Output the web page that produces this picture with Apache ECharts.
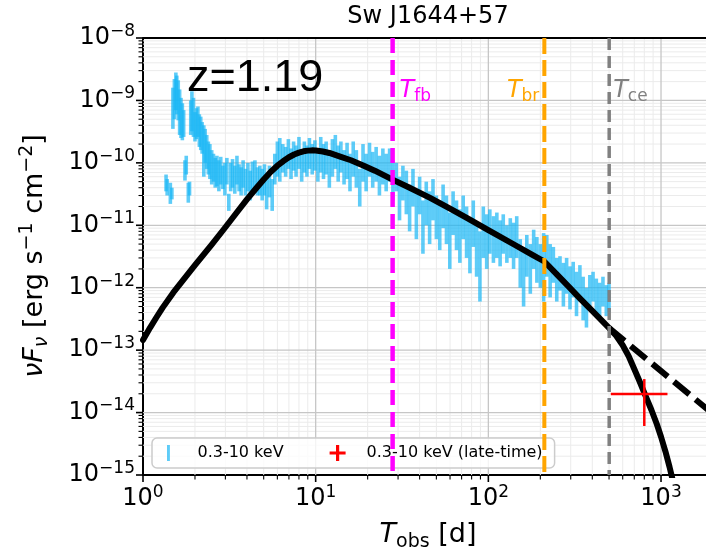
<!DOCTYPE html>
<html><head><meta charset="utf-8">
<script src="https://cdn.jsdelivr.net/npm/echarts@6/dist/echarts.min.js"></script>
<style>html,body{margin:0;padding:0;background:#fff}#c{width:706px;height:556px}</style>
</head><body><div id="c"></div>
<script>
// ---------------- data ----------------
const titleText = 'Sw J1644+57';
const redshiftText = 'z=1.19';
const xRange = [1, 2000];
const yRange = [1e-15, 1e-8];
const tFb = 27.9, tBr = 211, tCe = 501;

// 0.3-10 keV light curve (vertical error bars)
const xrtTime = [1.36,1.38,1.44,1.47,1.49,1.52,1.55,1.57,1.60,1.63,1.66,1.69,1.72,1.75,1.78,1.83,1.86,1.89,1.92,1.96,
 2.00,2.04,2.08,2.12,2.16,2.20,2.25,2.29,2.34,2.39,2.44,2.50,2.56,2.62,2.68,2.75,2.82,2.90,2.98,3.06,3.14,3.22,3.30,3.40,
 3.50,3.60,3.70,3.80,3.92,4.05,4.18,4.30,4.45,4.60,4.75,4.90,5.05,5.20,5.40,5.60,5.80,6.00,6.20,6.45,6.70,6.95,7.20,7.45,
 7.70,8.00,8.30,8.60,8.90,9.20,9.55,9.90,10.3,10.7,11.1,11.5,12.0,12.5,13.0,13.5,14.0,14.6,15.2,15.8,16.5,17.2,18.0,18.8,
 19.6,20.5,21.4,22.4,23.4,24.5,25.6,26.8,28.0,29.3,30.6,32.0,33.5,35.0,36.6,38.3,40.0,41.8,43.7,45.7,47.8,50.0,52.3,54.7,
 57.2,59.8,62.5,65.4,68.4,71.5,74.8,78.2,81.8,85.5,89.4,93.5,97.8,102,107,112,117,122,128,134,140,146,153,160,167,175,183,
 191,200,209,218,228,238,249,260,272,284,297,310,324,339,354,370,387,404,422,441,461,482,500];
const xrtFluxLo = [3.5e-11,3.0e-11,2.2e-11,2.6e-11,3.5e-10,5.0e-10,7.0e-10,6.0e-10,4.8e-10,2.8e-10,2.5e-10,2.3e-10,2.6e-10,5.2e-11,6.5e-11,2.3e-11,3.0e-11,2.8e-10,3.2e-10,2.6e-10,
 2.2e-10,2.4e-10,2.6e-10,1.8e-10,1.6e-10,1.4e-10,6.0e-11,1.0e-10,8.0e-11,6.5e-11,5.5e-11,4.5e-11,5.0e-11,4.0e-11,4.2e-11,3.5e-11,4.5e-11,3.8e-11,3.0e-11,4.5e-11,1.7e-11,3.5e-11,4.0e-11,3.2e-11,
 4.5e-11,3.5e-11,3.0e-11,4.0e-11,3.0e-11,3.5e-11,2.5e-11,3.5e-11,4.0e-11,3.0e-11,3.0e-11,2.5e-11,3.0e-11,1.8e-11,2.8e-11,1.7e-11,4.5e-11,6.0e-11,5.0e-11,7.0e-11,6.0e-11,8.0e-11,5.5e-11,7.5e-11,
 6.0e-11,8.0e-11,5.0e-11,7.0e-11,6.0e-11,8.0e-11,6.5e-11,7.5e-11,5.0e-11,7.0e-11,5.5e-11,6.5e-11,4.0e-11,6.0e-11,8.0e-11,5.0e-11,7.0e-11,4.5e-11,5.5e-11,3.5e-11,6.0e-11,4.0e-11,2.0e-11,5.0e-11,
 3.5e-11,6.0e-11,4.0e-11,5.0e-11,3.0e-11,4.5e-11,3.5e-11,5.0e-11,2.5e-11,3.5e-11,1.2e-11,2.5e-11,1.5e-11,8.0e-12,2.0e-11,6.0e-12,1.5e-11,3.5e-12,1.0e-11,5.0e-12,1.2e-11,6.0e-12,4.0e-12,9.0e-12,
 5.0e-12,2.0e-12,7.0e-12,4.0e-12,2.5e-12,6.0e-12,3.0e-12,1.7e-12,4.5e-12,1.5e-12,6.0e-13,3.0e-12,2.0e-12,3.5e-12,2.5e-12,3.0e-12,2.2e-12,3.5e-12,2.5e-12,3.0e-12,2.0e-12,3.0e-12,1.0e-12,5.0e-13,1.5e-12,8.0e-13,2.0e-12,
 1.2e-12,1.0e-12,6.0e-13,1.5e-12,7.0e-13,1.2e-12,6.0e-13,9.0e-13,5.0e-13,8.0e-13,4.5e-13,7.0e-13,3.5e-13,6.0e-13,3.0e-13,2.3e-13,5.0e-13,6.0e-13,4.0e-13,3.5e-13,5.0e-13,3.5e-13,4.0e-13];
const xrtFluxHi = [6.5e-11,5.5e-11,4.8e-11,4.0e-11,1.6e-9,2.2e-9,2.8e-9,2.5e-9,2.1e-9,1.5e-9,1.1e-9,9.0e-10,7.0e-10,1.1e-10,1.3e-10,4.8e-11,5.0e-11,1.0e-9,1.4e-9,1.1e-9,
 6.5e-10,7.5e-10,8.0e-10,6.0e-10,5.5e-10,4.5e-10,4.0e-10,3.5e-10,2.8e-10,2.2e-10,2.0e-10,1.6e-10,1.4e-10,1.2e-10,1.3e-10,1.1e-10,1.25e-10,9.0e-11,1.0e-10,1.2e-10,3.2e-11,1.0e-10,1.15e-10,9.0e-11,
 1.3e-10,9.5e-11,8.5e-11,1.1e-10,8.0e-11,1.0e-10,7.5e-11,1.05e-10,1.1e-10,8.5e-11,9.0e-11,8.0e-11,9.5e-11,6.0e-11,9.0e-11,5.5e-11,1.4e-10,2.2e-10,2.5e-10,2.0e-10,1.8e-10,2.4e-10,1.7e-10,2.2e-10,
 1.9e-10,2.6e-10,1.6e-10,2.2e-10,1.9e-10,2.5e-10,2.0e-10,2.3e-10,1.6e-10,2.6e-10,2.0e-10,2.2e-10,1.5e-10,2.4e-10,2.8e-10,1.9e-10,2.2e-10,1.6e-10,2.1e-10,1.4e-10,2.2e-10,1.6e-10,8.0e-11,2.0e-10,
 1.4e-10,2.1e-10,1.5e-10,1.8e-10,1.3e-10,1.7e-10,1.4e-10,1.7e-10,1.1e-10,1.0e-10,6.0e-11,9.0e-11,7.5e-11,4.5e-11,8.0e-11,3.5e-11,6.0e-11,2.5e-11,5.0e-11,3.5e-11,5.5e-11,3.0e-11,2.5e-11,4.5e-11,
 3.0e-11,1.6e-11,3.5e-11,2.5e-11,1.8e-11,3.0e-11,2.0e-11,1.2e-11,2.5e-11,1.0e-11,8.0e-12,2.0e-11,1.5e-11,1.8e-11,1.4e-11,1.6e-11,1.2e-11,1.5e-11,1.0e-11,1.3e-11,1.1e-11,1.4e-11,6.0e-12,4.0e-12,7.0e-12,5.0e-12,8.5e-12,
 6.5e-12,5.0e-12,7.5e-12,7.0e-12,5.0e-12,4.5e-12,3.0e-12,3.2e-12,2.5e-12,3.0e-12,2.2e-12,2.6e-12,1.8e-12,2.3e-12,1.5e-12,1.0e-12,1.6e-12,1.8e-12,1.4e-12,1.2e-12,1.5e-12,1.1e-12,1.2e-12];

// model light curve (solid) and no-cutoff extension (dashed)
const modelTime = [1,1.1,1.2,1.3,1.5,2,2.5,3,3.5,4,4.5,5,5.5,6,6.5,7,7.5,8,8.5,9,9.5,10,11,12,14,16,19,22,27.9,35,46,60,75,100,140,180,211,
 250,290,340,400,450,501,550,600,650,700,750,810,880,946,1000,1060,1120,1180];
const modelFlux = [1.45e-13,2.3e-13,3.4e-13,4.8e-13,8.4e-13,2.3e-12,4.9e-12,9.3e-12,1.62e-11,2.6e-11,3.85e-11,5.4e-11,7.2e-11,9.0e-11,1.07e-10,1.23e-10,1.36e-10,1.46e-10,1.53e-10,1.57e-10,1.585e-10,1.58e-10,1.52e-10,1.44e-10,1.25e-10,1.1e-10,9.0e-11,7.5e-11,5.4e-11,4.0e-11,2.75e-11,1.85e-11,1.31e-11,8.4e-12,4.97e-12,3.37e-12,2.63e-12,
 1.62e-12,1.06e-12,6.7e-13,4.25e-13,3.05e-13,2.25e-13,1.7e-13,1.2e-13,8.0e-14,5.0e-14,3.2e-14,1.9e-14,1.1e-14,6.5e-15,4.1e-15,2.4e-15,1.35e-15,7.4e-16];
const noCutoffTime = [501, 2000];
const noCutoffFlux = [2.25e-13, 9.5e-15];

// late-time point with error bars
const lateTime = [800], lateTimeLo = [512], lateTimeHi = [1090];
const lateFlux = [1.98e-14], lateFluxLo = [6.1e-15], lateFluxHi = [3.44e-14];

// ---------------- chart ----------------
const FONT = 'DejaVu Sans';
const BLUE = 'rgba(25,182,245,0.7)';
const chart = echarts.init(document.getElementById('c'), null, {renderer: 'canvas', width: 706, height: 556});

function powLabel(v) {
  const e = Math.round(Math.log10(v));
  if (Math.abs(v / Math.pow(10, e) - 1) > 1e-6) return '';
  return '{b|10}{s|' + String(e).replace('-', '\u2212') + '}';
}
const tickRich = {
  b: {fontSize: 24, fontFamily: FONT, color: '#000', lineHeight: 30},
  s: {fontSize: 17, fontFamily: FONT, color: '#000', lineHeight: 17, verticalAlign: 'top'}
};

const xrtData = xrtTime.map((t, i) => [t, xrtFluxLo[i], xrtFluxHi[i]]);
const modelData = modelTime.map((t, i) => [t, modelFlux[i]]);
const noCutData = noCutoffTime.map((t, i) => [t, noCutoffFlux[i]]);
const lateData = lateTime.map((t, i) => [t, lateFlux[i], lateTimeLo[i], lateTimeHi[i], lateFluxLo[i], lateFluxHi[i]]);

function vline(t, color, width, dash) {
  return {type: 'line', data: [[t, yRange[1]], [t, yRange[0]]], symbol: 'none', silent: true, z: 6,
    lineStyle: {color: color, width: width, type: dash}, animation: false};
}

const option = {
  animation: false,
  backgroundColor: '#fff',
  grid: {left: 143, top: 38, width: 570, height: 437, containLabel: false, outerBoundsMode: 'none'},
  xAxis: {
    type: 'log', logBase: 10, min: xRange[0], max: xRange[1], splitNumber: 4,
    axisLine: {show: true, onZero: false, lineStyle: {color: '#000', width: 2}},
    axisTick: {show: false}, splitLine: {show: false}, minorTick: {show: false},
    axisLabel: {formatter: powLabel, rich: tickRich, margin: 9, hideOverlap: false, showMaxLabel: true, showMinLabel: true}
  },
  yAxis: {
    type: 'log', logBase: 10, min: yRange[0], max: yRange[1], splitNumber: 7,
    axisLine: {show: true, onZero: false, lineStyle: {color: '#000', width: 2}},
    axisTick: {show: false}, splitLine: {show: false}, minorTick: {show: false},
    axisLabel: {formatter: powLabel, rich: tickRich, margin: 8, hideOverlap: false, showMaxLabel: true, showMinLabel: true}
  },
  legend: {
    left: 152, top: 438, orient: 'horizontal',
    padding: [7, 12, 7, 15], itemGap: 46, itemWidth: 16, itemHeight: 16,
    borderColor: '#cccccc', borderWidth: 1.5, borderRadius: 5,
    backgroundColor: 'rgba(255,255,255,0.8)', selectedMode: false,
    textStyle: {fontSize: 16, fontFamily: FONT, color: '#000', padding: [0, 0, 0, 16]},
    data: [
      {name: '0.3-10 keV', icon: 'path://M0,0h2v11h-2z'},
      {name: '0.3-10 keV (late-time)', icon: 'path://M4,0h2v10h-2zM0,4h10v2h-10z'}
    ]
  },
  series: [
    {
      type: 'custom', name: 'gridlines', silent: true, z: 1, clip: false,
      data: [[xRange[0], yRange[0]]],
      renderItem: function (params, api) {
        const cs = params.coordSys;
        const x0 = cs.x, x1 = cs.x + cs.width, y0 = cs.y, y1 = cs.y + cs.height;
        const minors = [], majors = [], ticks = [];
        for (let n = 0; n <= 4; n++) for (let k = 1; k <= 9; k++) {
          const v = k * Math.pow(10, n);
          if (v > xRange[1]) continue;
          const px = api.coord([v, yRange[0]])[0];
          const major = k === 1;
          if (px > x0 + 1 && px < x1 - 1)
            (major ? majors : minors).push({type: 'line', shape: {x1: px, y1: y0, x2: px, y2: y1},
              style: {stroke: major ? '#c6c6c6' : '#ebebeb', lineWidth: major ? 1.3 : 1}});
          ticks.push({type: 'line', shape: {x1: px, y1: y1, x2: px, y2: y1 + (major ? 7 : 4.5)},
            style: {stroke: '#000', lineWidth: major ? 1.6 : 1.1}});
        }
        for (let n = -15; n <= -8; n++) for (let k = 1; k <= 9; k++) {
          const v = k * Math.pow(10, n);
          if (v > yRange[1] * 1.0001) continue;
          const py = api.coord([xRange[0], v])[1];
          const major = k === 1;
          if (py > y0 + 1 && py < y1 - 1)
            (major ? majors : minors).push({type: 'line', shape: {x1: x0, y1: py, x2: x1, y2: py},
              style: {stroke: major ? '#c6c6c6' : '#ebebeb', lineWidth: major ? 1.3 : 1}});
          ticks.push({type: 'line', shape: {x1: x0, y1: py, x2: x0 - (major ? 7 : 4.5), y2: py},
            style: {stroke: '#000', lineWidth: major ? 1.6 : 1.1}});
        }
        ticks.push({type: 'line', shape: {x1: x0, y1: y0, x2: x1, y2: y0}, style: {stroke: '#000', lineWidth: 2}});
        return {type: 'group', children: minors.concat(majors, ticks)};
      }
    },
    {
      type: 'custom', name: '0.3-10 keV', z: 2, clip: true,
      itemStyle: {color: BLUE},
      encode: {x: 0, y: [1, 2]},
      data: xrtData,
      renderItem: function (params, api) {
        const a = api.coord([api.value(0), api.value(1)]);
        const b = api.coord([api.value(0), api.value(2)]);
        return {type: 'line', shape: {x1: a[0], y1: a[1], x2: b[0], y2: b[1]},
          style: {stroke: BLUE, lineWidth: 3.6}};
      }
    },
    {
      type: 'line', name: 'model', data: modelData, symbol: 'none', silent: true, z: 4, clip: true,
      lineStyle: {color: '#000', width: 6, cap: 'round', join: 'round'}
    },
    {
      type: 'line', name: 'no cutoff', data: noCutData, symbol: 'none', silent: true, z: 4, clip: true,
      lineStyle: {color: '#000', width: 6, type: [20, 8]}
    },
    vline(tFb, '#ff00ff', 4.5, [15, 7]),
    vline(tBr, '#ffa500', 4, [16, 6]),
    vline(tCe, '#808080', 3.5, [12, 6]),
    {
      type: 'custom', name: '0.3-10 keV (late-time)', z: 7, clip: false,
      itemStyle: {color: '#ff0000'},
      encode: {x: 0, y: 1},
      data: lateData,
      renderItem: function (params, api) {
        const t = api.value(0), f = api.value(1);
        const l = api.coord([api.value(2), f]), r = api.coord([api.value(3), f]);
        const lo = api.coord([t, api.value(4)]), hi = api.coord([t, api.value(5)]);
        return {type: 'group', children: [
          {type: 'line', shape: {x1: l[0], y1: l[1], x2: r[0], y2: r[1]}, style: {stroke: '#ff0000', lineWidth: 2.5}},
          {type: 'line', shape: {x1: lo[0], y1: lo[1], x2: hi[0], y2: hi[1]}, style: {stroke: '#ff0000', lineWidth: 2.5}}
        ]};
      }
    }
  ]
};
chart.setOption(option);

const px = v => chart.convertToPixel({xAxisIndex: 0}, v);
function tLabel(sub, color) {
  return {
    text: '{T|T}{s|' + sub + '}', fill: color,
    rich: {
      T: {fontSize: 24, fontStyle: 'italic', fontFamily: FONT, fill: color, lineHeight: 28},
      s: {fontSize: 17, fontFamily: FONT, fill: color, lineHeight: 18, verticalAlign: 'bottom'}
    }
  };
}
const graphics = [
  {type: 'text', x: 428, y: 17, style: {text: titleText, fontSize: 24, fontFamily: FONT, fill: '#000', align: 'center', verticalAlign: 'middle'}},
  {type: 'text', x: 187, y: 79, z: 10, style: {text: redshiftText, fontSize: 45, fontFamily: 'Liberation Sans', fill: '#000', align: 'left', verticalAlign: 'middle'}},
  {type: 'text', x: 35, y: 256, rotation: Math.PI / 2, style: {
    text: '{i|\u03bdF}{sub|\u03bd}{n| [erg s}{sup|\u22121}{n| cm}{sup|\u22122}{n|]}',
    align: 'center', verticalAlign: 'middle', fill: '#000',
    rich: {
      i: {fontSize: 27, fontStyle: 'italic', fontFamily: FONT, fill: '#000', lineHeight: 34},
      n: {fontSize: 27, fontFamily: FONT, fill: '#000', lineHeight: 34},
      sub: {fontSize: 19, fontStyle: 'italic', fontFamily: FONT, fill: '#000', lineHeight: 22, verticalAlign: 'bottom'},
      sup: {fontSize: 19, fontFamily: FONT, fill: '#000', lineHeight: 19, verticalAlign: 'top'}
    }}},
  {type: 'text', x: 428, y: 535, style: {
    text: '{i|T}{sub|obs}{n| [d]}', align: 'center', verticalAlign: 'middle', fill: '#000',
    rich: {
      i: {fontSize: 27, fontStyle: 'italic', fontFamily: FONT, fill: '#000', lineHeight: 34},
      n: {fontSize: 27, fontFamily: FONT, fill: '#000', lineHeight: 34},
      sub: {fontSize: 19, fontFamily: FONT, fill: '#000', lineHeight: 22, verticalAlign: 'bottom'}
    }}},
  {type: 'text', x: px(tFb) + 7, y: 91, z: 10, style: Object.assign(tLabel('fb', '#ff00ff'), {align: 'left', verticalAlign: 'middle'})},
  {type: 'text', x: px(tBr) - 5, y: 91, z: 10, style: Object.assign(tLabel('br', '#ffa500'), {align: 'right', verticalAlign: 'middle'})},
  {type: 'text', x: px(tCe) + 4, y: 91, z: 10, style: Object.assign(tLabel('ce', '#808080'), {align: 'left', verticalAlign: 'middle'})}
];
chart.setOption({graphic: graphics});
</script>
</body></html>
